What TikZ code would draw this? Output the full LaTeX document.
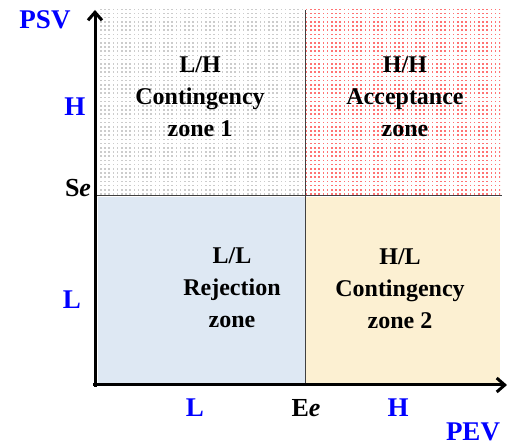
\documentclass[tikz,border=0pt]{standalone}
\usepackage{fontspec}
\setmainfont{Liberation Serif}
\usetikzlibrary{patterns,arrows.meta}
\definecolor{rejblue}{HTML}{DEE8F3}
\definecolor{contyellow}{HTML}{FCF0D2}
\pgfdeclarepatternformonly{zonedots}{\pgfpoint{-1pt}{-1pt}}{\pgfpoint{1pt}{1pt}}{\pgfpoint{4.2pt}{4.2pt}}{%
  \pgfpathrectangle{\pgfpoint{-0.8pt}{-0.8pt}}{\pgfpoint{1.6pt}{1.6pt}}\pgfusepath{fill}}
\tikzset{
  zonetext/.style={font=\fontsize{24}{32}\selectfont\bfseries, align=center},
  axlabel/.style={font=\fontsize{27}{30}\selectfont\bfseries, text=blue},
  ticklabel/.style={font=\fontsize{26}{30}\selectfont\bfseries},
}
\begin{document}
\begin{tikzpicture}[x=1pt,y=1pt,>={Straight Barb[length=8pt,width=14pt]}, line join=round]
		\useasboundingbox (0,0) rectangle (507,446);
		%	zones
		\fill[pattern=zonedots, pattern color=gray!40] (98,251) rectangle (305,436);
		\fill[pattern=zonedots, pattern color=red!55] (306,251) rectangle (500,436);
		\fill[rejblue] (98,63) rectangle (305,249);
		\fill[contyellow] (306,63) rectangle (500,249);
		\draw[line width=1pt, black!75] (97,250)--(502,250);
		\draw[line width=1pt, black!75] (305,436)--(305,62);
		%	axes
		\draw[->, line width=3pt] (95,59)--(95,436);
		\draw[->, line width=3pt] (93,61)--(507,61);
		%	axis labels
		\draw node (psv) at (45,426) [axlabel]{PSV};
		\draw node (pev) at (473,14) [axlabel]{PEV};
		\draw node (yh) at (75,339) [axlabel]{H};
		\draw node (yl) at (72,146) [axlabel]{L};
		\draw node (xl) at (195,38) [axlabel]{L};
		\draw node (xh) at (398,38) [axlabel]{H};
		\draw node (se) at (78,258) [ticklabel]{S\textit{e}};
		\draw node (ee) at (306,38) [ticklabel]{E\textit{e}};
		%	zone texts
		\draw node (lh) at (200,349) [zonetext]{L/H\\Contingency\\zone 1};
		\draw node (hh) at (405,349) [zonetext]{H/H\\Acceptance\\zone};
		\draw node (ll) at (232,158) [zonetext]{L/L\\Rejection\\zone};
		\draw node (hl) at (400,157) [zonetext]{H/L\\Contingency\\zone 2};
		\end{tikzpicture}
\end{document}
